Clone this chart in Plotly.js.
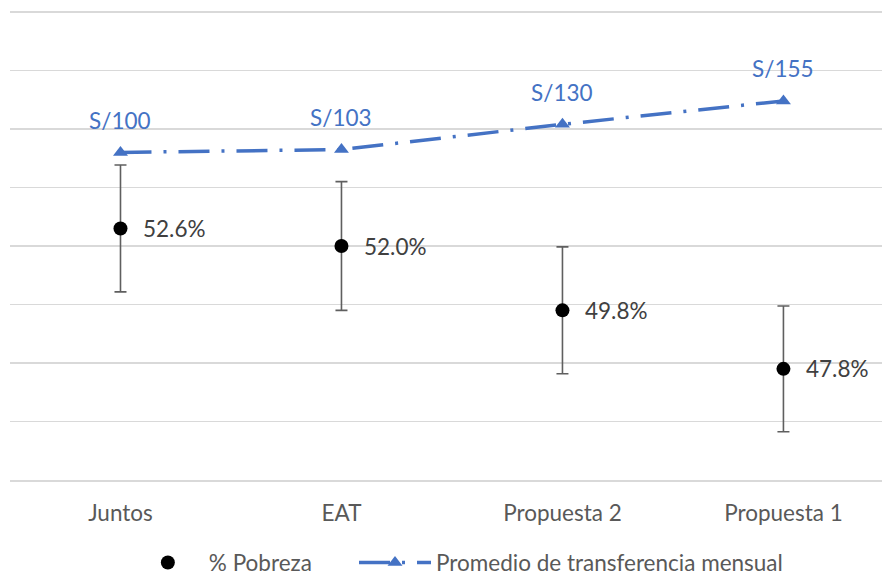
<!DOCTYPE html>
<html>
<head>
<meta charset="utf-8">
<script src="https://cdn.plot.ly/plotly-3.0.1.min.js"></script>
<style>html,body{margin:0;padding:0;background:#fff;}#chart{width:882px;height:575px;}</style>
</head>
<body>
<div id="chart"></div>
<script>
var categories = ["Juntos", "EAT", "Propuesta 2", "Propuesta 1"];
var pobreza = [52.6, 52.0, 49.8, 47.8];
var pobrezaError = [2.17, 2.2, 2.17, 2.15];
var pobrezaLabels = ["52.6%", "52.0%", "49.8%", "47.8%"];
var transferencia = [100, 103, 130, 155];
var transferenciaLabels = ["S/100", "S/103", "S/130", "S/155"];

var FONT = "Lato, 'Noto Sans', sans-serif";
var BLUE = "#4472C4";
var FS = 22.5;

var traces = [
  {
    x: categories, y: pobreza, name: "% Pobreza", type: "scatter", mode: "markers",
    marker: {color: "#000000", size: 14, symbol: "circle"},
    error_y: {type: "data", array: pobrezaError, visible: true, color: "#5f5f5f", thickness: 1.6, width: 6},
    yaxis: "y", hoverinfo: "skip", legend: "legend"
  },
  {
    x: categories, y: transferencia, name: "Promedio de transferencia mensual", type: "scatter", mode: "lines+markers",
    line: {color: BLUE, width: 3.5, dash: "31px,12px,3px,12px"},
    marker: {color: BLUE, size: 13, symbol: "triangle-up"},
    yaxis: "y2", hoverinfo: "skip", legend: "legend2"
  }
];

var annotations = [];
categories.forEach(function (c, i) {
  annotations.push({x: c, y: pobreza[i], xref: "x", yref: "y", text: pobrezaLabels[i], showarrow: false,
    xanchor: "left", yanchor: "middle", xshift: 21, yshift: 0, font: {family: FONT, size: FS, color: "#404040"}});
  annotations.push({x: c, y: transferencia[i], xref: "x", yref: "y2", text: transferenciaLabels[i], showarrow: false,
    xanchor: "center", yanchor: "middle", xshift: 0, yshift: 32, font: {family: FONT, size: FS, color: BLUE}});
});

var legendBase = {orientation: "h", xanchor: "left", yref: "container", y: 0.021, yanchor: "middle",
  font: {family: FONT, size: FS, color: "#595959"}, itemwidth: 72, bgcolor: "rgba(0,0,0,0)"};

var layout = {
  width: 882, height: 575,
  margin: {l: 10, r: 0, t: 0, b: 95, autoexpand: false},
  paper_bgcolor: "#ffffff", plot_bgcolor: "#ffffff",
  showlegend: true,
  legend: Object.assign({}, legendBase, {x: 0.134}),
  legend2: Object.assign({}, legendBase, {x: 0.3945}),
  xaxis: {type: "category", range: [-0.5, 3.446], showgrid: false, zeroline: false,
    showline: true, linecolor: "#d9d9d9", linewidth: 1.5, ticks: "",
    tickfont: {family: FONT, size: FS, color: "#595959"}, ticklabelstandoff: 12},
  yaxis: {range: [44, 60.41], dtick: 2, tick0: 44, showgrid: true, gridcolor: "#d9d9d9", gridwidth: 1.5,
    zeroline: false, showticklabels: false, ticks: ""},
  yaxis2: {range: [-250, 262.8], overlaying: "y", side: "right", showgrid: false, zeroline: false,
    showticklabels: false, ticks: ""},
  annotations: annotations
};

Plotly.newPlot("chart", traces, layout, {displayModeBar: false, staticPlot: true});
</script>
</body>
</html>
